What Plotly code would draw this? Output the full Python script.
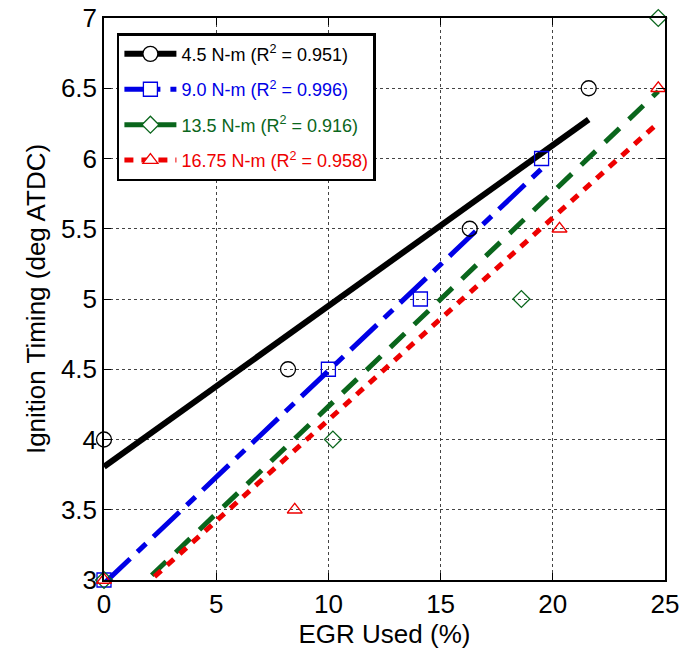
import numpy as np
import plotly.graph_objects as go

# Ignition timing vs. EGR fraction at four engine loads
egr_45 = [0.0, 8.2, 16.3, 21.6]
ign_45 = [4.0, 4.5, 5.5, 6.5]

egr_90 = [0.0, 10.0, 14.1, 19.5]
ign_90 = [3.0, 4.5, 5.0, 6.0]

egr_135 = [0.0, 10.2, 18.6, 24.7]
ign_135 = [3.0, 4.0, 5.0, 7.0]

egr_1675 = [0.0, 8.5, 20.3, 24.7]
ign_1675 = [3.0, 3.5, 5.5, 6.5]

labels = ["4.5 N-m", "9.0 N-m", "13.5 N-m", "16.75 N-m"]
r2_labels = ["0.951", "0.996", "0.916", "0.958"]

x_ticks = [0, 5, 10, 15, 20, 25]
y_ticks = [3, 3.5, 4, 4.5, 5, 5.5, 6, 6.5, 7]

series = [
    dict(x=egr_45, y=ign_45, color="#000000", symbol="circle", msize=15,
         dash="solid", width=6),
    dict(x=egr_90, y=ign_90, color="#0000e6", symbol="square", msize=14,
         dash="36px,10px,12px,10px", width=5),
    dict(x=egr_135, y=ign_135, color="#0a661c", symbol="diamond", msize=13,
         dash="20px,13px", width=5),
    dict(x=egr_1675, y=ign_1675, color="#ee0000", symbol="triangle-up", msize=13,
         dash="9px,8px", width=5),
]

fig = go.Figure()

# least-squares fit lines, spanning from 0 to the largest EGR value
for s in series:
    slope, icpt = np.polyfit(s["x"], s["y"], 1)
    xf = np.array([0.0, max(s["x"])])
    fig.add_trace(go.Scatter(
        x=xf, y=slope * xf + icpt, mode="lines", showlegend=False,
        line=dict(color=s["color"], width=s["width"], dash=s["dash"]),
        hoverinfo="skip"))

# measured points (open markers)
for s in series:
    fig.add_trace(go.Scatter(
        x=s["x"], y=s["y"], mode="markers", showlegend=False, cliponaxis=False,
        marker=dict(symbol=s["symbol"] + "-open", size=s["msize"], color=s["color"],
                    line=dict(color=s["color"], width=1.3))))

# legend entries (line + white-filled marker)
for i, s in enumerate(series):
    name = (f'<span style="color:{s["color"]}">{labels[i]} '
            f'(R<sup>2</sup> = {r2_labels[i]})</span>')
    fig.add_trace(go.Scatter(
        x=[None], y=[None], mode="lines+markers", name=name,
        legendgroup=f"g{i}",
        line=dict(color=s["color"], width=s["width"], dash=s["dash"]),
        marker=dict(symbol=s["symbol"], size=s["msize"], color="white",
                    line=dict(color=s["color"], width=1.3))))

axis_common = dict(
    showline=True, linecolor="black", linewidth=1.5, mirror="ticks",
    ticks="inside", ticklen=7, tickcolor="black", tickwidth=1,
    showgrid=True, gridcolor="#444444", gridwidth=1, griddash="dot",
    zeroline=False, tickfont=dict(size=26, color="black"), automargin=False,
)

fig.update_layout(
    width=683, height=651,
    margin=dict(l=104, r=18, t=18, b=71),
    paper_bgcolor="white", plot_bgcolor="white",
    font=dict(family="Liberation Sans, Arial, Helvetica, sans-serif", color="black"),
    xaxis=dict(range=[0, 25], tickvals=x_ticks, ticktext=[str(v) for v in x_ticks],
               title=dict(text="EGR Used (%)", font=dict(size=26), standoff=4),
               **axis_common),
    yaxis=dict(range=[3, 7], tickvals=y_ticks, ticktext=[f"{v:g}" for v in y_ticks],
               title=dict(text="Ignition Timing (deg ATDC)", font=dict(size=26), standoff=8),
               **axis_common),
    legend=dict(x=0.023, y=0.973, xanchor="left", yanchor="top",
                bgcolor="white", bordercolor="black", borderwidth=2.5,
                font=dict(size=18), tracegroupgap=9, itemwidth=52),
    showlegend=True,
)

fig.write_html("out.html")
